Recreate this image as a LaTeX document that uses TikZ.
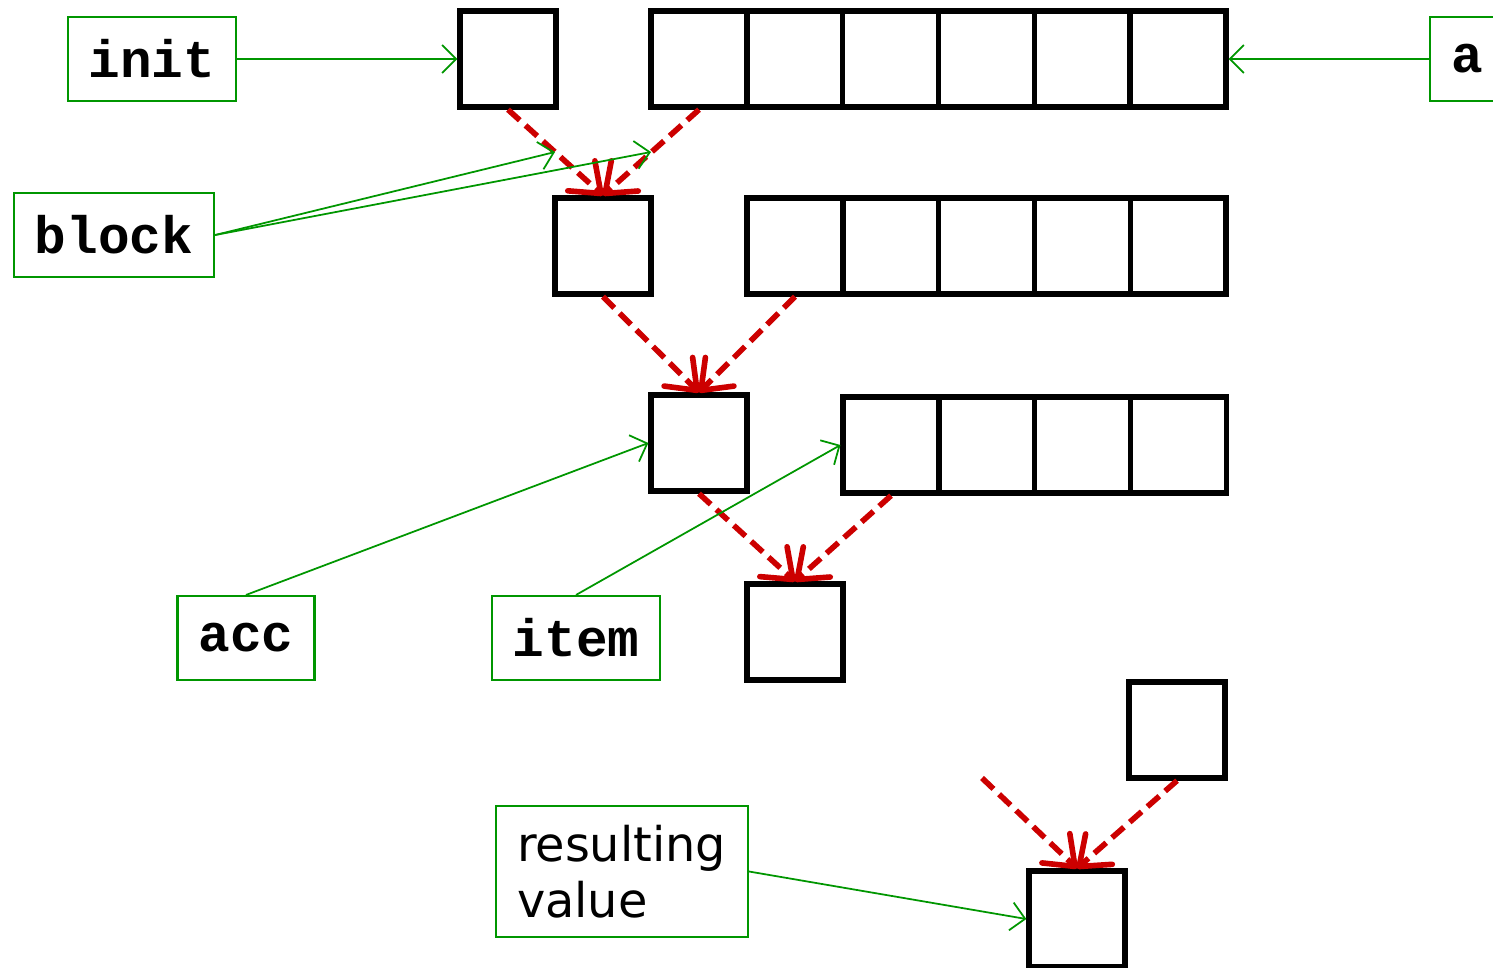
\documentclass[tikz,border=0pt]{standalone}
\usepackage{fontspec}
\setmonofont{Liberation Mono}
\setsansfont{DejaVu Sans}
\usetikzlibrary{arrows.meta}
\definecolor{lblgreen}{RGB}{0,150,0}
\definecolor{flowred}{RGB}{204,0,0}
\tikzset{
	cell/.style={draw,line width=1.5pt,minimum size=0.96cm,inner sep=0pt},
	lbl/.style={draw=lblgreen,line width=0.6pt,minimum height=0.84cm,inner xsep=0.21cm,
		font=\fontsize{15}{17}\selectfont\ttfamily\bfseries},
	pointer/.style={lblgreen,line width=0.5pt,-{Straight Barb[length=4pt,width=8pt]}},
	flow/.style={flowred,line width=1.6pt,dash pattern=on 4.5pt off 2.2pt,
		-{Straight Barb[round,length=7.5pt,width=11.5pt]}}
}
\begin{document}
\begin{tikzpicture}
	\useasboundingbox (0,0) rectangle (14.93,-9.67);
	\node[cell] (init) at (5.08,-0.59) {};
	\foreach \i in {1,...,6}
		\node[cell,minimum width=0.958cm] (a\i) at ({6.99+(\i-1)*0.958},-0.59) {};
	\node[cell] (acc1) at (6.03,-2.46) {};
	\foreach \i in {1,...,5}
		\node[cell,minimum width=0.958cm] (b\i) at ({7.95+(\i-1)*0.958},-2.46) {};
	\node[cell] (acc2) at (6.99,-4.43) {};
	\foreach \i in {1,...,4}
		\node[cell,minimum width=0.958cm] (c\i) at ({8.91+(\i-1)*0.958},-4.45) {};
	\node[cell] (acc3) at (7.95,-6.32) {};
	\node[cell] (last) at (11.77,-7.30) {};
	\node[cell] (res) at (10.77,-9.19) {};
	\coordinate (more) at (9.82,-7.78);
	\coordinate (blk1) at (5.55,-1.52);
	\coordinate (blk2) at (6.51,-1.52);

	\draw[flow] (init.south) -- (acc1.north);
	\draw[flow] (a1.south) -- (acc1.north);
	\draw[flow] (acc1.south) -- (acc2.north);
	\draw[flow] (b1.south) -- (acc2.north);
	\draw[flow] (acc2.south) -- (acc3.north);
	\draw[flow] (c1.south) -- (acc3.north);
	\draw[flow] (more) -- (res.north);
	\draw[flow] (last.south) -- (res.north);

	\node[lbl] (Linit) at (1.52,-0.59) {init};
	\node[lbl,minimum width=0.68cm] (La) at (14.67,-0.59) {a};
	\node[lbl] (Lblock) at (1.14,-2.35) {block};
	\node[lbl] (Lacc) at (2.46,-6.38) {acc};
	\node[lbl] (Litem) at (5.76,-6.38) {item};
	\node[lbl,font=\fontsize{13.6}{16}\selectfont\sffamily,text width=2.1cm,align=left,
		inner ysep=0.185cm] (Lres) at (6.22,-8.715) {resulting\\value};

	\draw[pointer] (Linit.east) -- (init.west);
	\draw[pointer] (La.west) -- (a6.east);
	\draw[pointer] (Lblock.east) -- (blk1);
	\draw[pointer] (Lblock.east) -- (blk2);
	\draw[pointer] (Lacc.north) -- (acc2.west);
	\draw[pointer] (Litem.north) -- (c1.west);
	\draw[pointer] (Lres.east) -- (res.west);
\end{tikzpicture}
\end{document}
